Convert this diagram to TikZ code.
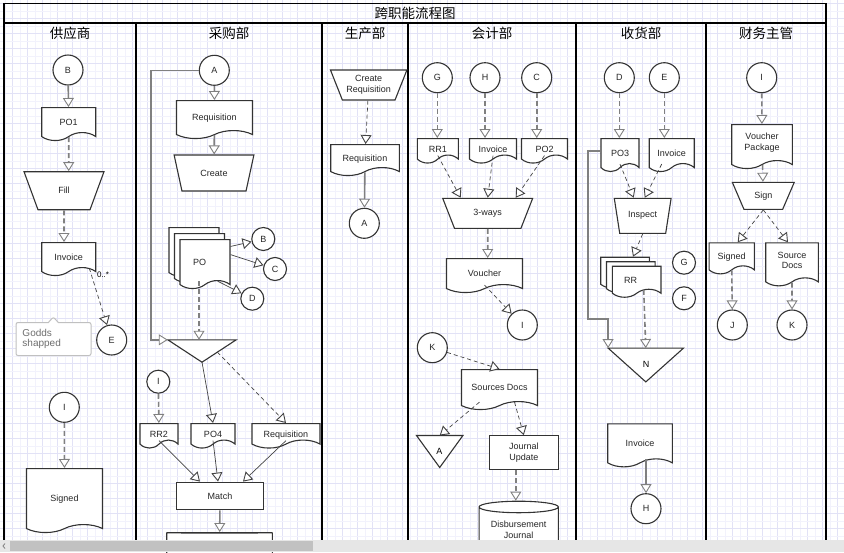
\documentclass[tikz,border=0pt]{standalone}
\usepackage{fontspec}
\setmainfont{Liberation Sans}
\newfontfamily\cjk{Noto Sans CJK SC}
\usetikzlibrary{arrows.meta, calc, shapes.geometric, shapes.symbols, shapes.callouts}
\definecolor{gridmaj}{RGB}{226,226,246}
\definecolor{gridmin}{RGB}{242,242,252}
\definecolor{edge}{RGB}{51,51,51}
\definecolor{flowgray}{RGB}{128,128,128}
\definecolor{linkgray}{RGB}{68,68,68}
\definecolor{notegray}{RGB}{192,192,192}
\definecolor{notetext}{RGB}{110,110,110}
\definecolor{barbg}{RGB}{230,230,230}
\definecolor{barthumb}{RGB}{193,193,193}

\begin{document}
\begin{tikzpicture}[x=1pt,y=-1pt,
    font=\fontsize{9}{10.5}\selectfont,
    shp/.style={draw=edge, line width=1.1pt, fill=white, inner sep=1pt, align=center, text=black!85},
    conn/.style={shp, circle, minimum size=30pt},
    sconn/.style={shp, circle, minimum size=23pt},
    doc/.style={shp, tape, tape bend top=none, tape bend bottom=in and out, tape bend height=8pt,
        anchor=north, text height=12.5pt, text depth=2pt},
    doctwo/.style={doc, text height=, text depth=},
    manop/.style={shp, trapezium, shape border rotate=180, trapezium stretches=true, trapezium angle=#1},
    proc/.style={shp, rectangle},
    db/.style={shp, cylinder, shape border rotate=90, aspect=0.2},
    mergebox/.style={inner sep=0pt},
    lanetitle/.style={font=\cjk\fontsize{13.5}{15}\selectfont},
    tooltip/.style={rectangle callout, draw=notegray, line width=1pt, fill=white, rounded corners=2pt,
        text=notetext, font=\fontsize{10}{9.5}\selectfont, align=left, text width=62pt,
        inner xsep=6.5pt, inner ysep=2pt, minimum height=33pt,
        callout absolute pointer={(53.3,317)}, callout pointer width=10pt},
    opentip/.style={-{Triangle[fill=white, length=9pt, width=11pt, line width=0.9pt]}},
    flow/.style={opentip, draw=flowgray, line width=1.6pt},
    flowdash/.style={flow, dash pattern=on 5pt off 3pt},
    thinline/.style={opentip, draw=linkgray, line width=0.7pt},
    thindash/.style={thinline, dash pattern=on 4pt off 3pt}]
\useasboundingbox (0,0) rectangle (844,552);
\foreach \k in {0,...,56}{
    \draw[gridmin, line width=0.6pt] (4.8+15*\k,0) -- (4.8+15*\k,540);
    \draw[gridmaj, line width=0.8pt] (12.3+15*\k,0) -- (12.3+15*\k,540);
}
\foreach \k in {0,...,36}{
    \draw[gridmin, line width=0.6pt] (0,10.8+15*\k) -- (844,10.8+15*\k);
    \draw[gridmaj, line width=0.8pt] (0,3.3+15*\k) -- (844,3.3+15*\k);
}
\draw[line width=1.5pt] (4,3.3) rectangle (826,23);
\foreach \x in {4,136,322,408,576,706,826}
    \draw[line width=2pt] (\x,23) -- (\x,540);
\node[lanetitle] (title) at (415,13) {跨职能流程图};
\foreach \x/\t [count=\i] in {70/供应商,229/采购部,365/生产部,492/会计部,641/收货部,766/财务主管}
    \node[lanetitle] (lane\i) at (\x,33) {\t};

\node[conn] (b1) at (68,70) {B};
\node[doc, minimum width=54pt, minimum height=33pt] (po1) at (68.7,107) {PO1};
\node[manop=67, minimum width=80pt, minimum height=38pt] (fillop) at (64,190.7) {Fill};
\node[doc, minimum width=54pt, minimum height=33pt] (inv1) at (68.7,242) {Invoice};
\node[conn] (e1) at (111.7,340) {E};
\node[tooltip] (note) at (53.5,339) {Godds\\shapped};
\node[conn] (i1) at (64.3,407.3) {I};
\node[doc, minimum width=76pt, minimum height=64pt] (signed1) at (64.5,468) {Signed};

\node[conn] (a1) at (214.3,70.3) {A};
\node[doc, minimum width=76pt, minimum height=38pt] (req1) at (214.5,100) {Requisition};
\node[manop=67, minimum width=80pt, minimum height=36pt] (create) at (214,173) {Create};
\node[doc, minimum width=50pt, minimum height=49pt] (poback) at (194,227) {};
\node[doc, minimum width=50pt, minimum height=49pt] (pomid) at (199.5,233) {};
\node[doc, minimum width=50pt, minimum height=49pt] (pofront) at (205,239) {\kern-11pt PO};
\node[sconn] (b2) at (263.3,239) {B};
\node[sconn] (c2) at (275,269) {C};
\node[sconn] (d2) at (252.3,298.7) {D};
\node[mergebox, minimum width=68pt, minimum height=22pt] (merge1) at (202,351) {};
\draw[shp] (merge1.north west) -- (merge1.north east) -- (merge1.south) -- cycle;
\node[sconn] (i4) at (158.3,381.7) {I};
\node[doc, minimum width=38pt, minimum height=24pt] (rr2) at (159,423) {RR2};
\node[doc, minimum width=44pt, minimum height=24pt] (po4) at (213,423) {PO4};
\node[doc, minimum width=68pt, minimum height=24pt] (req2) at (286,423) {Requisition};
\node[proc, minimum width=86.6pt, minimum height=27.7pt] (match) at (220,496) {Match};
\node[db, minimum width=105.6pt, minimum height=50pt] (db1) at (219.5,558) {};

\node[manop=63, minimum width=77pt, minimum height=30pt] (createreq) at (368.7,85) {Create\\Requisition};
\node[doc, minimum width=68.6pt, minimum height=31pt] (req3) at (365,144) {Requisition};
\node[conn] (a2) at (364.3,223.3) {A};

\node[conn] (g1) at (437.3,77.7) {G};
\node[conn] (h1) at (485,77.7) {H};
\node[conn] (c1) at (536.7,77.7) {C};
\node[doc, minimum width=41pt, minimum height=24pt] (rr1) at (437.8,138) {RR1};
\node[doc, minimum width=47pt, minimum height=24pt] (inv2) at (493,138) {Invoice};
\node[doc, minimum width=46pt, minimum height=24pt] (po2) at (544.5,138) {PO2};
\node[manop=62, minimum width=90pt, minimum height=30pt] (threeways) at (487.7,213.3) {3-ways};
\node[doc, minimum width=76pt, minimum height=34pt] (voucher) at (484.5,258) {Voucher};
\node[conn] (i2) at (522.3,325) {I};
\node[conn] (k1) at (432.3,347.7) {K};
\node[doc, minimum width=76pt, minimum height=40pt] (srcdocs) at (499.5,369) {Sources Docs};
\node[mergebox, minimum width=46pt, minimum height=31.6pt] (mergea) at (439.7,451.5) {};
\draw[shp] (mergea.north west) -- (mergea.north east) -- (mergea.south) -- cycle;
\node (mergealbl) at (439.3,451.7) {A};
\node[proc, minimum width=69pt, minimum height=33.6pt] (jupdate) at (523.8,452.5) {Journal\\Update};
\node[db, minimum width=79.3pt, minimum height=50pt] (db2) at (518.7,530) {Disbursement\\Journal};

\node[conn] (d1) at (619.3,77.7) {D};
\node[conn] (e2) at (664.3,77.7) {E};
\node[doc, minimum width=38pt, minimum height=33pt] (po3) at (620,138) {PO3};
\node[doc, minimum width=45pt, minimum height=33pt] (inv3) at (671.7,138) {Invoice};
\node[manop=70, minimum width=57pt, minimum height=35pt] (inspect) at (642.7,215.8) {Inspect};
\node[doc, minimum width=48.6pt, minimum height=31pt] (rrback) at (625,256.7) {};
\node[doc, minimum width=48.6pt, minimum height=31pt] (rrmid) at (630.8,261.2) {};
\node[doc, minimum width=48.6pt, minimum height=31pt] (rrfront) at (636.7,265.7) {\kern-12pt RR};
\node[sconn] (g2) at (684,262.7) {G};
\node[sconn] (f1) at (684,298.3) {F};
\node[mergebox, minimum width=75pt, minimum height=33.4pt] (mergen) at (645.8,365) {};
\draw[shp] (mergen.north west) -- (mergen.north east) -- (mergen.south) -- cycle;
\node (mergenlbl) at (646,364.3) {N};
\node[doc, minimum width=64.6pt, minimum height=43pt] (inv4) at (640,423.3) {Invoice};
\node[conn] (h2) at (646,508.7) {H};

\node[conn] (i3) at (761.7,77.7) {I};
\node[doctwo, minimum width=60.6pt, minimum height=44pt] (vpack) at (762,124) {Voucher\\Package};
\node[manop=60, minimum width=62pt, minimum height=27pt] (sign) at (763.3,195.8) {Sign};
\node[doc, minimum width=45.3pt, minimum height=31pt] (signed2) at (731.7,242.3) {Signed};
\node[doctwo, minimum width=52.6pt, minimum height=43pt] (srcdoc2) at (792,242.3) {Source\\Docs};
\node[conn] (j1) at (732.3,325) {J};
\node[conn] (k2) at (792,325) {K};

\draw[flow] (b1) -- (po1);
\draw[flowdash] (po1) -- (po1 |- fillop.north);
\draw[flowdash] (fillop) -- (fillop |- inv1.north);
\draw[thindash] ([xshift=-7pt]inv1.south east) -- node[pos=0.12, right=2pt, font=\fontsize{8}{9}\selectfont] (mult) {0..*} (e1);
\draw[flowdash] (i1) -- (signed1);

\draw[flow] (a1) -- (req1);
\draw[flow] (req1) -- (create);
\draw[flow] (a1.west) -- ++(-48,0) |- (merge1.north west);
\draw[thinline] (pofront.28) -- (b2);
\draw[thinline] (pofront.12) -- (c2);
\draw[thinline] (pofront.-58) -- (d2);
\draw[flowdash] ([xshift=-6pt]pofront.south) -- ([xshift=-6pt]pofront.south |- merge1.north);
\draw[thinline] (merge1.south) -- (po4.north);
\draw[thindash] ($(merge1.north east)!0.55!(merge1.south)$) -- (req2.north);
\draw[flowdash] (i4) -- (rr2);
\draw[thinline] (rr2.south) -- ([xshift=-20pt]match.north);
\draw[thinline] (po4.south) -- ([xshift=-2pt]match.north);
\draw[thinline] (req2.south) -- ([xshift=23pt]match.north);
\draw[flow] (match) -- (db1);

\draw[thindash] (createreq) -- (req3);
\draw[flow] (req3) -- (a2);

\draw[flowdash] (g1) -- (g1 |- rr1.north);
\draw[flowdash] (h1) -- (h1 |- inv2.north);
\draw[flowdash] (c1) -- (c1 |- po2.north);
\draw[thindash] (rr1.south) -- ([xshift=-27pt]threeways.north);
\draw[thindash] (inv2.south) -- (threeways.north);
\draw[thindash] (po2.south) -- ([xshift=28pt]threeways.north);
\draw[flowdash] (threeways) -- (threeways |- voucher.north);
\draw[thindash] (voucher.south) -- (i2);
\draw[thindash] (k1) -- (srcdocs.north);
\draw[thindash] ([xshift=-20pt]srcdocs.south) -- (mergea.north);
\draw[thindash] ([xshift=15pt]srcdocs.south) -- (jupdate.north);
\draw[flowdash] ([xshift=-8pt]jupdate.south) -- ([xshift=-8pt]jupdate.south |- db2.north);

\draw[flowdash] (d1) -- (d1 |- po3.north);
\draw[flowdash] (e2) -- (e2 |- inv3.north);
\draw[thindash] (po3.south) -- ([xshift=-9pt]inspect.north);
\draw[thindash] ([xshift=-10pt]inv3.south) -- ([xshift=2pt]inspect.north);
\draw[thindash] (inspect.south) -- ([xshift=8pt]rrback.north);
\draw[flowdash] ([xshift=7pt]rrfront.south) -- (mergen.north);
\draw[flow] (po3.west) -- ++(-12.4,0) -- ++(0,168) -| (mergen.north west);
\draw[flow] (h2 |- inv4.south) -- (h2);

\draw[flowdash] (i3) -- (vpack);
\draw[flowdash] (vpack) -- (sign);
\draw[thindash] (sign.south) -- ([xshift=6pt]signed2.north);
\draw[thindash] (sign.south) -- ([xshift=-4pt]srcdoc2.north);
\draw[flowdash] (signed2) -- (j1);
\draw[flowdash] (srcdoc2) -- (k2);

\fill[barbg] (0,540) rectangle (844,552);
\fill[barthumb] (10,541) rectangle (313,551);
\draw[gray, line width=0.8pt] (5,543.5) -- (3,546) -- (5,548.5);
\end{tikzpicture}
\end{document}
